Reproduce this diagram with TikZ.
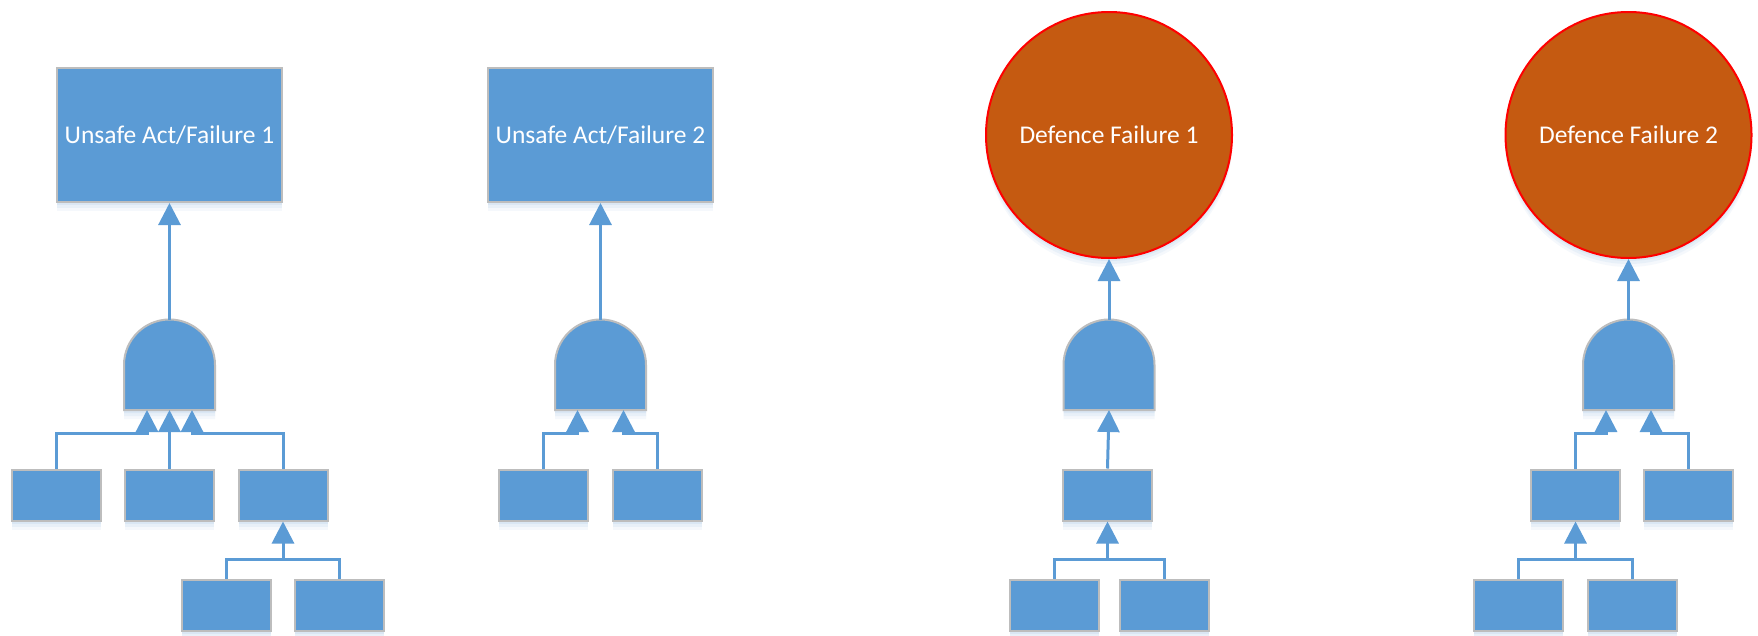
\documentclass[tikz,border=0pt]{standalone}
\usepackage{fontspec}
\setmainfont{Carlito}
\usetikzlibrary{arrows.meta,calc,shadows}

\definecolor{fillblue}{HTML}{5B9BD5}
\definecolor{edgegrey}{HTML}{BDBDBD}
\definecolor{fillrust}{HTML}{C55A11}
\definecolor{edgered}{HTML}{FF0000}
\definecolor{glow}{HTML}{9DC3E6}

\tikzset{
  softshadow/.style={
    general shadow={fill=glow, opacity=0.10, shadow yshift=-9pt},
    general shadow={fill=glow, opacity=0.14, shadow yshift=-6pt},
    general shadow={fill=glow, opacity=0.18, shadow yshift=-3pt},
  },
  event/.style={rectangle, fill=fillblue, draw=edgegrey, line width=2pt,
    minimum width=225pt, minimum height=134pt, inner sep=0pt, softshadow,
    text=white, font=\fontsize{25.5}{30}\selectfont},
  barrier/.style={circle, fill=fillrust, draw=edgered, line width=2pt,
    minimum size=246pt, inner sep=0pt, softshadow,
    text=white, font=\fontsize{25.5}{30}\selectfont},
  cause/.style={rectangle, fill=fillblue, draw=edgegrey, line width=2pt,
    minimum width=89pt, minimum height=51pt, inner sep=0pt, softshadow},
  andslot/.style={rectangle, minimum width=91pt, minimum height=90pt,
    inner sep=0pt, outer sep=0pt},
  andbody/.style={fill=fillblue, draw=edgegrey, line width=2pt, softshadow},
  conn/.style={draw=fillblue, line width=3pt,
    -{Triangle[width=22pt,length=22pt]}},
  link/.style={draw=fillblue, line width=3pt},
}

% AND gate outline drawn inside a named slot node
\newcommand\andgate[1]{%
  \path[andbody] (#1.south west) -- (#1.south east) -- (#1.east)
    arc[start angle=0, end angle=180, radius=45.5pt] -- cycle;}

\begin{document}
\begin{tikzpicture}[x=1pt, y=-1pt]
\useasboundingbox[fill=white] (0,0) rectangle (1758,635);

% ---------- tree 1 ----------
\node[event] (t1) at (169.5,135) {Unsafe Act/Failure 1};
\node[andslot] (g1) at (169.5,365) {};
\andgate{g1}
\node[cause] (l11) at (56.5,495) {};
\node[cause] (l12) at (169.5,495) {};
\node[cause] (l13) at (283,495) {};
\node[cause] (s131) at (226.5,605) {};
\node[cause] (s132) at (339.5,605) {};

\draw[conn] (g1.north) -- (t1.south);
\draw[conn] (l11.north) |- ($(g1.south)+(-22.5,23)$) -- ($(g1.south)+(-22.5,0)$);
\draw[conn] (l12.north) -- (g1.south);
\draw[conn] (l13.north) |- ($(g1.south)+(22.5,23)$) -- ($(g1.south)+(22.5,0)$);
\draw[link] (s132.north) |- ($(l13.south)+(0,38)$);
\draw[conn] (s131.north) |- ($(l13.south)+(0,38)$) -- (l13.south);

% ---------- tree 2 ----------
\node[event] (t2) at (600.5,135) {Unsafe Act/Failure 2};
\node[andslot] (g2) at (600.5,365) {};
\andgate{g2}
\node[cause] (l21) at (543.5,495) {};
\node[cause] (l22) at (657,495) {};

\draw[conn] (g2.north) -- (t2.south);
\draw[conn] (l21.north) |- ($(g2.south)+(-23,23)$) -- ($(g2.south)+(-23,0)$);
\draw[conn] (l22.north) |- ($(g2.south)+(23,23)$) -- ($(g2.south)+(23,0)$);

% ---------- tree 3 ----------
\node[barrier] (c1) at (1109,135) {Defence Failure 1};
\node[andslot] (g3) at (1109,365) {};
\andgate{g3}
\node[cause] (l31) at (1107.5,495) {};
\node[cause] (s311) at (1054,605) {};
\node[cause] (s312) at (1164,605) {};

\draw[conn] (g3.north) -- (c1.south);
\draw[conn] (l31.north) -- (g3.south);
\draw[link] (s312.north) |- ($(l31.south)+(0,38)$);
\draw[conn] (s311.north) |- ($(l31.south)+(0,38)$) -- (l31.south);

% ---------- tree 4 ----------
\node[barrier] (c2) at (1628.5,135) {Defence Failure 2};
\node[andslot] (g4) at (1628.5,365) {};
\andgate{g4}
\node[cause] (l41) at (1575.5,495) {};
\node[cause] (l42) at (1688.5,495) {};
\node[cause] (s411) at (1518.5,605) {};
\node[cause] (s412) at (1632.5,605) {};

\draw[conn] (g4.north) -- (c2.south);
\draw[conn] (l41.north) |- ($(g4.south)+(-22.5,23)$) -- ($(g4.south)+(-22.5,0)$);
\draw[conn] (l42.north) |- ($(g4.south)+(22.5,23)$) -- ($(g4.south)+(22.5,0)$);
\draw[link] (s412.north) |- ($(l41.south)+(0,38)$);
\draw[conn] (s411.north) |- ($(l41.south)+(0,38)$) -- (l41.south);
\end{tikzpicture}
\end{document}
